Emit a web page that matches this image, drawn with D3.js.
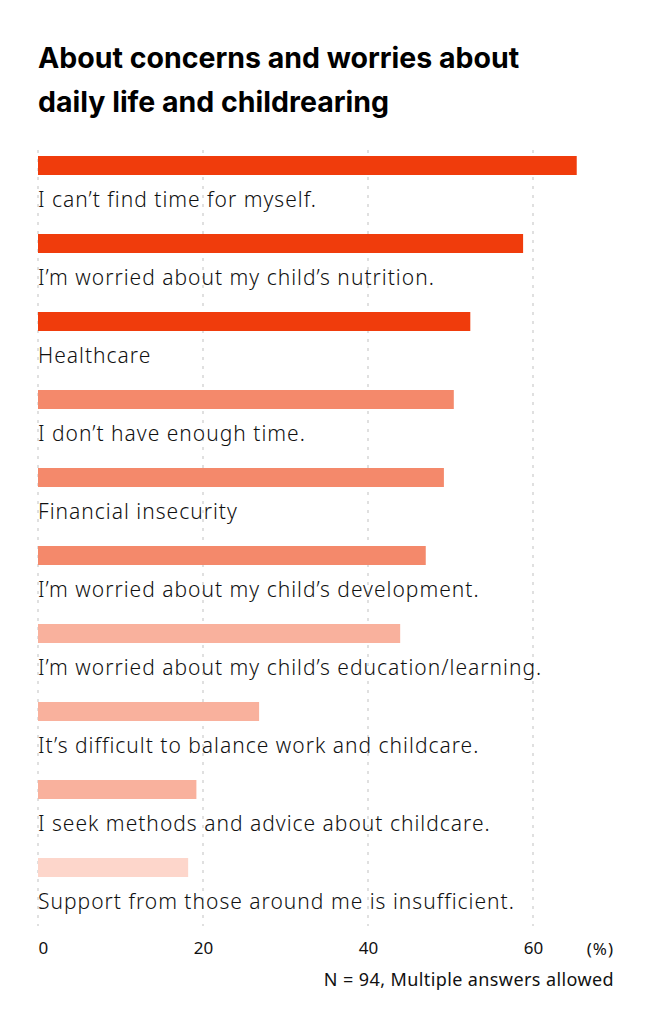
<!DOCTYPE html>
<html>
<head>
<meta charset="utf-8">
<script src="https://cdn.jsdelivr.net/npm/d3@7"></script>
<style>
  body { margin: 0; background: #fff; }
  svg { display: block; }
</style>
</head>
<body>
<svg id="chart" width="654" height="1018"></svg>
<script>
const categories = [
  "I can\u2019t find time for myself.",
  "I\u2019m worried about my child\u2019s nutrition.",
  "Healthcare",
  "I don\u2019t have enough time.",
  "Financial insecurity",
  "I\u2019m worried about my child\u2019s development.",
  "I\u2019m worried about my child\u2019s education/learning.",
  "It\u2019s difficult to balance work and childcare.",
  "I seek methods and advice about childcare.",
  "Support from those around me is insufficient."
];
const values = [65.3, 58.8, 52.4, 50.4, 49.2, 47.0, 43.9, 26.8, 19.2, 18.2];
const groups = [0, 0, 0, 1, 1, 1, 2, 2, 2, 3];
const groupColors = ["#f03c0c", "#f4896b", "#f9b19d", "#fdd6cb"];
const xTicks = [0, 20, 40, 60];
const titleLines = ["About concerns and worries about", "daily life and childrearing"];
const note = "N = 94, Multiple answers allowed";

const left = 38;

const svg = d3.select("#chart");

// title
svg.selectAll(".title")
  .data(titleLines)
  .enter()
  .append("text")
  .attr("class", "title")
  .attr("x", left)
  .attr("y", (d, i) => 68 + i * 44)
  .style("font-family", "Inter, 'Noto Sans', sans-serif")
  .style("font-weight", 700)
  .style("font-size", "28.5px")
  .style("fill", "#000")
  .text(d => d);

const x = d3.scaleLinear()
  .domain([0, 60])
  .range([left, 533]);

const y = d3.scaleBand()
  .domain(categories)
  .range([156, 936]);

const barH = 19;

// dotted grid
svg.append("g")
  .selectAll("line")
  .data(xTicks)
  .enter()
  .append("line")
  .attr("x1", d => x(d))
  .attr("x2", d => x(d))
  .attr("y1", 150)
  .attr("y2", 926)
  .style("stroke", "#d6d6d6")
  .style("stroke-width", 1.5)
  .style("stroke-dasharray", "3,6");

// bars
svg.append("g")
  .selectAll("rect")
  .data(categories)
  .enter()
  .append("rect")
  .attr("x", x(0))
  .attr("y", d => y(d))
  .attr("width", (d, i) => x(values[i]) - x(0))
  .attr("height", barH)
  .style("fill", (d, i) => groupColors[groups[i]]);

// labels
svg.append("g")
  .selectAll("text")
  .data(categories)
  .enter()
  .append("text")
  .attr("x", left)
  .attr("y", d => y(d) + 51)
  .style("font-family", "'Noto Sans', sans-serif")
  .style("font-weight", 300)
  .style("font-size", "21px")
  .style("letter-spacing", "1px")
  .style("fill", "#111")
  .text(d => d);

// x axis labels
const xAxis = d3.axisBottom(x)
  .tickValues(xTicks)
  .tickSize(0)
  .tickPadding(0);

const ax = svg.append("g")
  .attr("transform", "translate(0, 942)")
  .call(xAxis);
ax.select(".domain").remove();
ax.selectAll("text")
  .style("font-family", "'Noto Sans', sans-serif")
  .style("font-size", "17px")
  .style("fill", "#111")
  .attr("text-anchor", d => d === 0 ? "start" : "middle");

svg.append("text")
  .attr("x", 614)
  .attr("y", 955)
  .attr("text-anchor", "end")
  .style("font-family", "'Noto Sans', sans-serif")
  .style("font-size", "17px")
  .style("letter-spacing", "1px")
  .style("fill", "#111")
  .text("(%)");

svg.append("text")
  .attr("x", 614)
  .attr("y", 986)
  .attr("text-anchor", "end")
  .style("font-family", "'Noto Sans', sans-serif")
  .style("font-size", "18px")
  .style("letter-spacing", "0.4px")
  .style("fill", "#111")
  .text(note);
</script>
</body>
</html>
